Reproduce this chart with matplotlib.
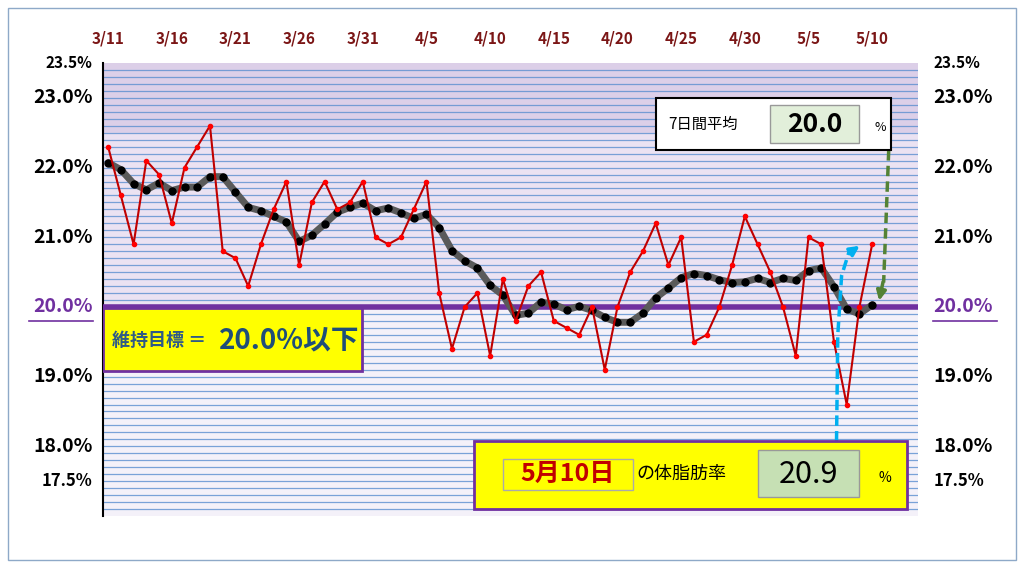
import numpy as np
import matplotlib.pyplot as plt
from matplotlib.patches import Rectangle, FancyArrowPatch

plt.rcParams['font.family'] = ['Noto Sans CJK JP', 'DejaVu Sans']

# ── data ──────────────────────────────────────────────
tick_labels = ["3/11", "3/16", "3/21", "3/26", "3/31", "4/5", "4/10", "4/15",
               "4/20", "4/25", "4/30", "5/5", "5/10"]
daily = [22.3, 21.6, 20.9, 22.1, 21.9, 21.2, 22.0, 22.3, 22.6, 20.8,
         20.7, 20.3, 20.9, 21.4, 21.8, 20.6, 21.5, 21.8, 21.4, 21.5,
         21.8, 21.0, 20.9, 21.0, 21.4, 21.8, 20.2, 19.4, 20.0, 20.2,
         19.3, 20.4, 19.8, 20.3, 20.5, 19.8, 19.7, 19.6, 20.0, 19.1,
         20.0, 20.5, 20.8, 21.2, 20.6, 21.0, 19.5, 19.6, 20.0, 20.6,
         21.3, 20.9, 20.5, 20.0, 19.3, 21.0, 20.9, 19.5, 18.6, 20.0, 20.9]
avg7 = [22.07, 21.97, 21.77, 21.68, 21.78, 21.67, 21.72, 21.72, 21.87, 21.87,
        21.65, 21.43, 21.38, 21.30, 21.22, 20.94, 21.03, 21.19, 21.36, 21.43,
        21.49, 21.38, 21.42, 21.35, 21.27, 21.33, 21.14, 20.81, 20.66, 20.56,
        20.31, 20.17, 19.88, 19.91, 20.07, 20.04, 19.96, 20.01, 19.95, 19.85,
        19.78, 19.78, 19.91, 20.13, 20.27, 20.42, 20.48, 20.45, 20.39, 20.35,
        20.36, 20.41, 20.35, 20.41, 20.38, 20.52, 20.56, 20.29, 19.97, 19.90, 20.03]
target = 20.0
left_labels = [(23.5, "23.5%", 11), (23.0, "23.0%", 14), (22.0, "22.0%", 14),
               (21.0, "21.0%", 14), (19.0, "19.0%", 14), (18.0, "18.0%", 14),
               (17.5, "17.5%", 12)]

days = np.arange(len(daily))

fig = plt.figure(figsize=(10.24, 5.68), dpi=100)
ax = fig.add_axes([0.1006, 0.0915, 0.7959, 0.7975])
ax.set_xlim(-0.4, 63.6)
ax.set_ylim(17.0, 23.5)

# background bands
ax.axhspan(22.5, 23.5, color="#dccfe8", zorder=0)
ax.axhspan(20.0, 22.5, color="#ebe2f2", zorder=0)
ax.axhspan(17.0, 20.0, color="#f4f1f9", zorder=0)
for v in np.arange(17.1, 23.5, 0.1):
    ax.axhline(v, color="#5b8fd0", lw=0.9, alpha=0.8, zorder=1)

ax.axhline(target, color="#7030a0", lw=4, zorder=3)
ax.plot(days, avg7, color="#5a5a5a", lw=5, zorder=4, solid_capstyle="round")
ax.plot(days, avg7, "o", color="black", ms=5, zorder=5)
ax.plot(days, daily, color="#c00000", lw=1.5, marker="o", ms=3,
        mfc="#ff0000", mec="#ff0000", zorder=6)

ax.set_xticks(np.arange(0, len(daily), 5))
ax.set_xticklabels(tick_labels)
ax.xaxis.tick_top()
ax.tick_params(axis="x", length=0, pad=12, labelsize=11, labelcolor="#7b1616")
for t in ax.get_xticklabels():
    t.set_fontweight("bold")
ax.set_yticks([])
for s in ["top", "right", "bottom"]:
    ax.spines[s].set_visible(False)
ax.spines["left"].set_linewidth(1.5)

# y labels both sides
for v, txt, fs in left_labels:
    ax.text(-1.2, v, txt, ha="right", va="center", fontsize=fs, fontweight="bold")
    ax.text(64.8, v, txt, ha="left", va="center", fontsize=fs, fontweight="bold")
for xpos, ha in [(-1.2, "right"), (64.8, "left")]:
    ax.text(xpos, target, "20.0%", ha=ha, va="center", fontsize=14,
            fontweight="bold", color="#7030a0")
    ax.plot([xpos - 5.0, xpos] if ha == "right" else [xpos, xpos + 5.0],
            [19.8, 19.8], color="#7030a0", lw=1.2, clip_on=False)

# target box
ax.add_patch(Rectangle((-0.4, 19.08), 20.3, 0.9, fc="#ffff00", ec="#7030a0", lw=2, zorder=7))
ax.text(0.3, 19.52, "維持目標 ＝", fontsize=13, color="#2e5a87", fontweight="bold",
        va="center", zorder=8)
ax.text(8.7, 19.52, "20.0%以下", fontsize=20, color="#1f4e79", fontweight="bold",
        va="center", zorder=8)

# 7-day average box
ax.add_patch(Rectangle((43.0, 22.25), 18.5, 0.75, fc="white", ec="black", lw=1.5, zorder=7))
ax.text(44.0, 22.62, "7日間平均", fontsize=11, va="center", zorder=8)
ax.add_patch(Rectangle((52.0, 22.35), 7.0, 0.55, fc="#e2efda", ec="#999999", lw=1, zorder=8))
ax.text(55.5, 22.62, f"{avg7[-1]:.1f}", fontsize=19, fontweight="bold",
        ha="center", va="center", zorder=9)
ax.text(60.2, 22.58, "%", fontsize=9, va="center", zorder=9)

# today's value box
ax.add_patch(Rectangle((28.7, 17.1), 34.0, 0.97, fc="#ffff00", ec="#7030a0", lw=2, zorder=7))
ax.add_patch(Rectangle((31.0, 17.37), 10.2, 0.45, fc="#ffff00", ec="#aaaaaa", lw=1, zorder=8))
ax.text(36.1, 17.6, "5月10日", fontsize=18, fontweight="bold", color="#c00000",
        ha="center", va="center", zorder=9)
ax.text(41.5, 17.6, "の体脂肪率", fontsize=13, va="center", zorder=9)
ax.add_patch(Rectangle((51.0, 17.27), 8.0, 0.68, fc="#c6e0b4", ec="#999999", lw=1, zorder=8))
ax.text(55.0, 17.6, f"{daily[-1]:.1f}", fontsize=22, ha="center", va="center", zorder=9)
ax.text(60.5, 17.55, "%", fontsize=10, va="center", zorder=9)

# arrows
ax.plot([57.2, 57.3, 57.6, 58.2], [18.07, 19.6, 20.45, 20.8], color="#00b0f0",
        lw=2.5, ls=(0, (3, 1.5)), zorder=6)
ax.add_patch(FancyArrowPatch((58.0, 20.75), (59.2, 20.9), arrowstyle="-|>",
                             mutation_scale=14, color="#00b0f0", lw=2.5, zorder=6))
ax.plot([61.3, 60.9], [22.25, 20.35], color="#548235", lw=2.5, ls=(0, (3, 1.5)), zorder=6)
ax.add_patch(FancyArrowPatch((60.9, 20.4), (60.5, 20.05), arrowstyle="-|>",
                             mutation_scale=14, color="#548235", lw=2.5, zorder=6))

fig.patches.append(Rectangle((0.008, 0.014), 0.984, 0.972, transform=fig.transFigure,
                             fill=False, ec="#8ea9c8", lw=1))
fig.savefig("out.png", dpi=100)
